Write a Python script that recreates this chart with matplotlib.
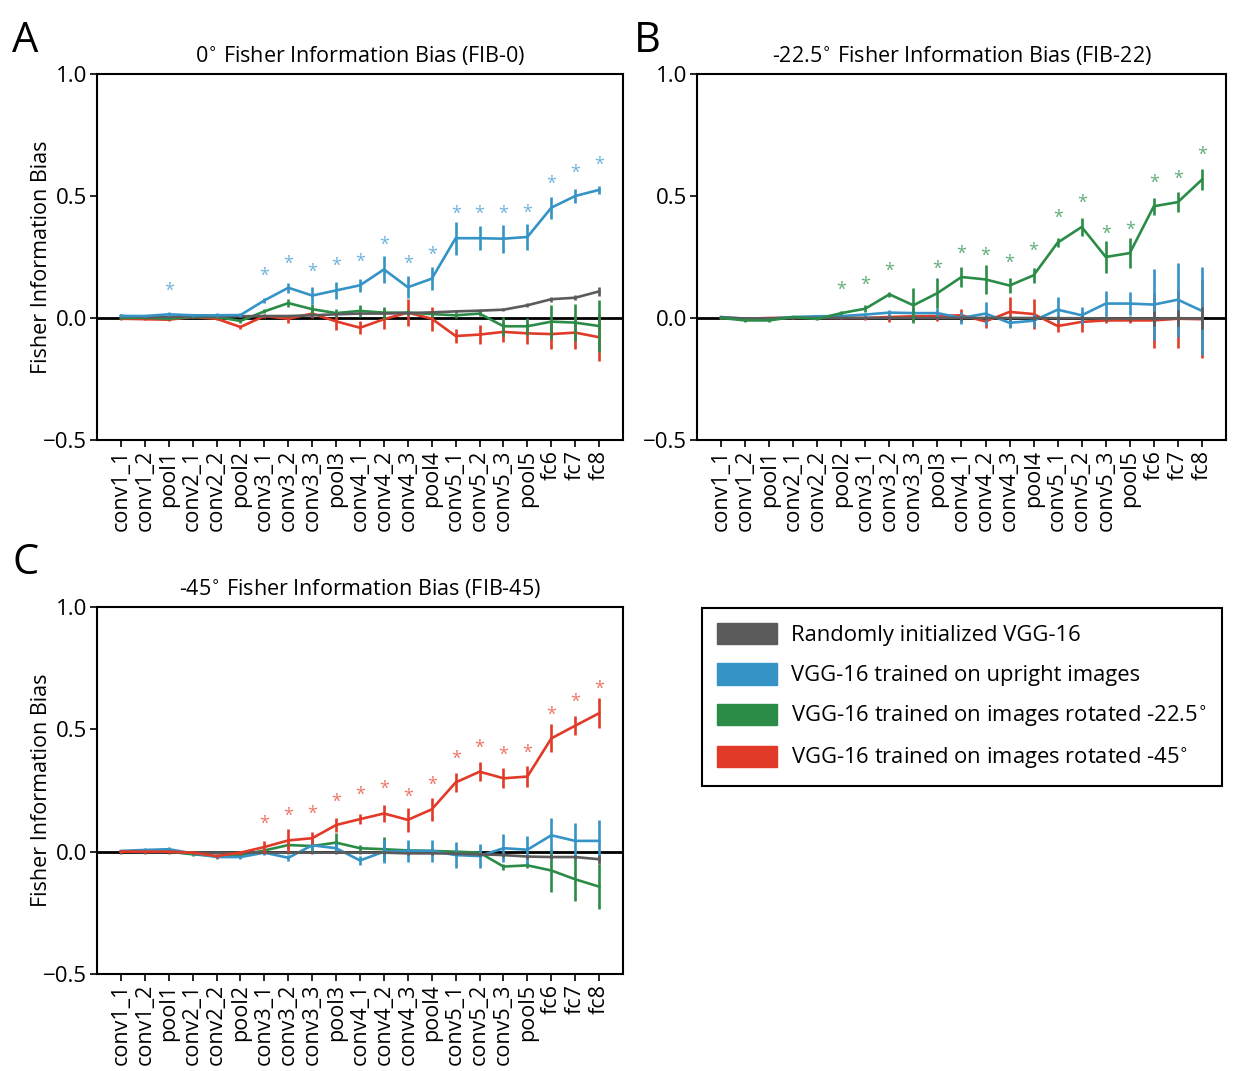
import numpy as np
import matplotlib
matplotlib.use("Agg")
import matplotlib.pyplot as plt
from matplotlib.patches import Patch

plt.rcParams['font.family'] = ['Open Sans', 'DejaVu Sans']

layers = ['conv1_1', 'conv1_2', 'pool1', 'conv2_1', 'conv2_2', 'pool2',
          'conv3_1', 'conv3_2', 'conv3_3', 'pool3', 'conv4_1', 'conv4_2',
          'conv4_3', 'pool4', 'conv5_1', 'conv5_2', 'conv5_3', 'pool5',
          'fc6', 'fc7', 'fc8']

nan = np.nan

# ---- FIB-0 ----
a_gray = [0.008, 0.004, 0.004, 0.007, 0.007, 0.007, 0.008, 0.008, 0.011, 0.015, 0.018,
          0.018, 0.020, 0.023, 0.027, 0.030, 0.034, 0.052, 0.077, 0.083, 0.109]
a_gray_err = [0.008, 0.005, 0.005, 0.005, 0.005, 0.005, 0.006, 0.006, 0.006, 0.006, 0.006,
              0.006, 0.006, 0.006, 0.006, 0.006, 0.006, 0.008, 0.010, 0.010, 0.018]
a_blue = [0.008, 0.008, 0.015, 0.011, 0.011, 0.012, 0.072, 0.124, 0.092, 0.113, 0.134,
          0.199, 0.126, 0.161, 0.327, 0.327, 0.325, 0.332, 0.452, 0.500, 0.525]
a_blue_err = [0.005, 0.004, 0.008, 0.005, 0.008, 0.008, 0.010, 0.020, 0.034, 0.034, 0.027,
              0.055, 0.045, 0.046, 0.067, 0.048, 0.057, 0.052, 0.045, 0.030, 0.017]
a_green = [0.000, 0.001, -0.003, 0.004, 0.004, -0.012, 0.027, 0.061, 0.036, 0.020, 0.029,
           0.022, 0.022, 0.016, 0.011, 0.018, -0.034, -0.034, -0.015, -0.019, -0.033]
a_green_err = [0.004, 0.004, 0.005, 0.004, 0.005, 0.008, 0.008, 0.016, 0.020, 0.016, 0.025,
               0.025, 0.010, 0.010, 0.010, 0.010, 0.040, 0.034, 0.070, 0.077, 0.106]
a_red = [-0.003, -0.005, -0.007, 0.004, -0.003, -0.037, 0.008, -0.003, 0.018, -0.014, -0.040,
         -0.005, 0.022, -0.003, -0.074, -0.068, -0.057, -0.063, -0.066, -0.060, -0.079]
a_red_err = [0.004, 0.004, 0.005, 0.004, 0.005, 0.008, 0.010, 0.016, 0.020, 0.034, 0.027,
             0.040, 0.056, 0.050, 0.030, 0.040, 0.042, 0.045, 0.060, 0.068, 0.096]
a_stars = [nan, nan, 0.113, nan, nan, nan, 0.171, 0.223, 0.189, 0.212, 0.232,
           0.298, 0.223, 0.260, 0.425, 0.425, 0.425, 0.430, 0.550, 0.596, 0.626]

# ---- FIB-22 ----
b_gray = [0.002, -0.002, -0.002, 0.000, 0.000, 0.000, 0.000, 0.000, 0.000, 0.000, 0.000,
          0.000, 0.000, 0.000, -0.001, -0.001, -0.002, -0.002, -0.002, -0.001, -0.002]
b_gray_err = [0.008, 0.006, 0.006, 0.005, 0.005, 0.005, 0.006, 0.006, 0.006, 0.006, 0.008,
              0.008, 0.008, 0.008, 0.008, 0.008, 0.010, 0.012, 0.032, 0.032, 0.045]
b_blue = [0.004, -0.003, -0.003, 0.004, 0.007, 0.008, 0.014, 0.022, 0.020, 0.020, 0.000,
          0.018, -0.020, -0.011, 0.034, 0.011, 0.059, 0.059, 0.055, 0.075, 0.029]
b_blue_err = [0.005, 0.005, 0.005, 0.005, 0.006, 0.006, 0.008, 0.012, 0.020, 0.020, 0.025,
              0.046, 0.023, 0.027, 0.050, 0.034, 0.050, 0.046, 0.145, 0.152, 0.180]
b_green = [0.000, -0.010, -0.010, 0.004, -0.004, 0.020, 0.038, 0.097, 0.052, 0.102, 0.168,
           0.158, 0.133, 0.175, 0.309, 0.373, 0.250, 0.266, 0.458, 0.475, 0.567]
b_green_err = [0.005, 0.008, 0.008, 0.005, 0.006, 0.008, 0.014, 0.010, 0.072, 0.062, 0.040,
               0.060, 0.030, 0.030, 0.020, 0.038, 0.067, 0.060, 0.034, 0.040, 0.044]
b_red = [0.000, -0.003, 0.000, 0.001, 0.001, 0.000, 0.000, 0.004, 0.007, 0.008, 0.011,
         -0.014, 0.025, 0.016, -0.033, -0.016, -0.010, -0.010, -0.010, -0.003, -0.005]
b_red_err = [0.004, 0.004, 0.004, 0.004, 0.004, 0.006, 0.008, 0.020, 0.020, 0.020, 0.027,
             0.027, 0.063, 0.060, 0.023, 0.040, 0.012, 0.012, 0.113, 0.118, 0.160]
b_stars = [nan, nan, nan, nan, nan, 0.117, 0.137, 0.195, nan, 0.200, 0.264,
           0.254, 0.228, 0.275, 0.410, 0.473, 0.346, 0.363, 0.555, 0.571, 0.667]

# ---- FIB-45 ----
c_gray = [0.000, -0.002, -0.002, -0.003, -0.004, -0.004, -0.004, -0.004, -0.004, -0.004, -0.004,
          -0.004, -0.007, -0.007, -0.008, -0.011, -0.014, -0.020, -0.022, -0.022, -0.031]
c_gray_err = [0.008, 0.006, 0.006, 0.006, 0.006, 0.006, 0.006, 0.006, 0.006, 0.006, 0.006,
              0.006, 0.006, 0.006, 0.006, 0.006, 0.006, 0.008, 0.010, 0.010, 0.018]
c_blue = [0.003, 0.007, 0.010, -0.007, -0.022, -0.022, -0.004, -0.025, 0.026, 0.014, -0.036,
          0.000, 0.003, 0.003, -0.014, -0.018, 0.014, 0.008, 0.067, 0.044, 0.044]
c_blue_err = [0.005, 0.006, 0.010, 0.006, 0.006, 0.006, 0.008, 0.012, 0.030, 0.020, 0.020,
              0.046, 0.046, 0.046, 0.053, 0.049, 0.058, 0.057, 0.071, 0.075, 0.086]
c_green = [0.000, 0.000, 0.000, -0.011, -0.018, -0.014, 0.005, 0.027, 0.023, 0.037, 0.014,
           0.010, 0.005, 0.003, 0.000, -0.004, -0.061, -0.056, -0.077, -0.113, -0.143]
c_green_err = [0.004, 0.004, 0.004, 0.005, 0.005, 0.006, 0.008, 0.012, 0.015, 0.041, 0.015,
               0.048, 0.012, 0.012, 0.010, 0.012, 0.012, 0.012, 0.087, 0.089, 0.093]
c_red = [0.000, 0.000, 0.000, -0.004, -0.018, -0.004, 0.019, 0.046, 0.055, 0.109, 0.133,
         0.156, 0.130, 0.173, 0.283, 0.327, 0.300, 0.307, 0.463, 0.515, 0.566]
c_red_err = [0.004, 0.004, 0.004, 0.005, 0.006, 0.008, 0.023, 0.046, 0.024, 0.027, 0.020,
             0.034, 0.049, 0.048, 0.039, 0.039, 0.040, 0.042, 0.057, 0.038, 0.061]
c_stars = [nan, nan, nan, nan, nan, nan, 0.115, 0.146, 0.153, 0.205, 0.231,
           0.255, 0.225, 0.272, 0.378, 0.423, 0.396, 0.406, 0.560, 0.613, 0.665]

titles = ['0$^{\\circ}$ Fisher Information Bias (FIB-0)',
          '-22.5$^{\\circ}$ Fisher Information Bias (FIB-22)',
          '-45$^{\\circ}$ Fisher Information Bias (FIB-45)']
legend_labels = ['Randomly initialized VGG-16',
                 'VGG-16 trained on upright images',
                 'VGG-16 trained on images rotated -22.5$^{\\circ}$',
                 'VGG-16 trained on images rotated -45$^{\\circ}$']

GRAY = '#5b5b5b'
BLUE = '#3593c6'
GREEN = '#2b8c48'
RED = '#e23a28'
STAR = {BLUE: '#6fb3dc', GREEN: '#5fae78', RED: '#ee7565'}

x = np.arange(len(layers))


def draw_panel(ax, series, stars, star_color, title, ylabel=True):
    ax.axhline(0, color='black', lw=2, zorder=1)
    for i, (mean, err, color) in enumerate(series):
        ax.errorbar(x, mean, yerr=err, color=color, lw=1.9, elinewidth=1.9,
                    capsize=0, zorder=2 + i)
    for xi, s in zip(x, stars):
        if not np.isnan(s):
            ax.text(xi, s, '*', color=star_color, fontsize=13,
                    ha='center', va='center', zorder=10)
    ax.set_xlim(-1, len(layers))
    ax.set_ylim(-0.5, 1.0)
    ax.set_yticks([-0.5, 0.0, 0.5, 1.0])
    ax.set_yticklabels(['\u22120.5', '0.0', '0.5', '1.0'], fontsize=16)
    ax.set_xticks(x)
    ax.set_xticklabels(layers, rotation=90, fontsize=15.5)
    ax.tick_params(direction='out', length=5, width=1.2, pad=2)
    for sp in ax.spines.values():
        sp.set_linewidth(1.5)
    ax.set_title(title, fontsize=15.5, pad=8)
    if ylabel:
        ax.set_ylabel('Fisher Information Bias', fontsize=15.5, labelpad=-6)


fig = plt.figure(figsize=(12.33, 10.71), dpi=100)

ax_a = fig.add_axes([0.0787, 0.5892, 0.4266, 0.3417])
ax_b = fig.add_axes([0.5653, 0.5892, 0.4290, 0.3417])
ax_c = fig.add_axes([0.0787, 0.0906, 0.4266, 0.3426])

draw_panel(ax_a, [(a_red, a_red_err, RED), (a_green, a_green_err, GREEN),
                  (a_gray, a_gray_err, GRAY), (a_blue, a_blue_err, BLUE)],
           a_stars, STAR[BLUE], titles[0])
draw_panel(ax_b, [(b_red, b_red_err, RED), (b_blue, b_blue_err, BLUE),
                  (b_gray, b_gray_err, GRAY), (b_green, b_green_err, GREEN)],
           b_stars, STAR[GREEN], titles[1], ylabel=False)
draw_panel(ax_c, [(c_green, c_green_err, GREEN), (c_blue, c_blue_err, BLUE),
                  (c_gray, c_gray_err, GRAY), (c_red, c_red_err, RED)],
           c_stars, STAR[RED], titles[2])

# panel letters
fig.text(0.010, 0.962, 'A', fontsize=30, va='center')
fig.text(0.514, 0.962, 'B', fontsize=30, va='center')
fig.text(0.010, 0.474, 'C', fontsize=30, va='center')

# legend
handles = [Patch(facecolor=c, edgecolor=c) for c in [GRAY, BLUE, GREEN, RED]]
leg = fig.legend(handles, legend_labels, loc='upper left',
                 bbox_to_anchor=(0.5693, 0.4323), fontsize=15.8,
                 handlelength=2.7, handleheight=1.1, handletextpad=0.65,
                 labelspacing=0.78, borderpad=0.7, borderaxespad=0,
                 fancybox=False, framealpha=1, edgecolor='black')
leg.get_frame().set_linewidth(1.5)

fig.savefig('out.png', dpi=100)
